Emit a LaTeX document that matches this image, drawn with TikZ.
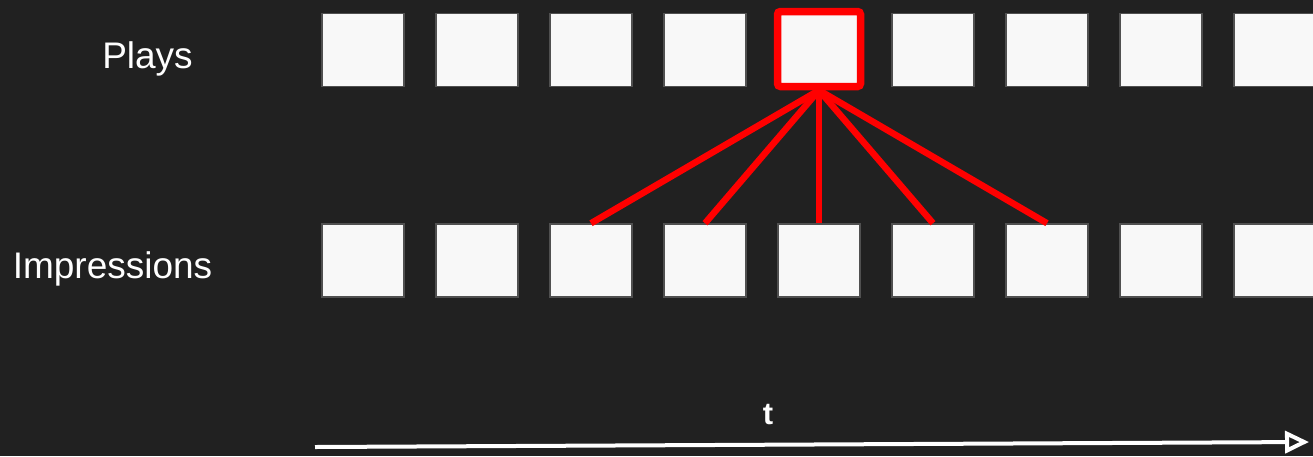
\documentclass[tikz,border=0pt]{standalone}
\usepackage{fontspec}
\setmainfont{Liberation Sans}
\usetikzlibrary{arrows.meta}
\definecolor{bgdark}{HTML}{212121}
\definecolor{slotfill}{HTML}{F8F8F8}
\definecolor{slotedge}{HTML}{505050}
\definecolor{hotred}{HTML}{FF0000}
\begin{document}
\begin{tikzpicture}[x=1pt, y=-1pt]
        \tikzstyle{slot}=[draw=slotedge, line width=1.5pt, fill=slotfill, rectangle, minimum width=82pt, minimum height=73pt, inner sep=0pt]
        \tikzstyle{picked}=[slot, draw=hotred, line width=7.5pt, rounded corners=3pt, minimum width=83pt, minimum height=75pt]
        \tikzstyle{link}=[draw=hotred, line width=6.5pt]
        \tikzstyle{rowlabel}=[text=white, font=\fontsize{37}{44}\selectfont, anchor=base, inner sep=0pt]

        \fill[bgdark] (0,0) rectangle (1313,456);
        \clip (0,0) rectangle (1313,456);

        \node[rowlabel] (plays) at (147.5,68) {Plays};
        \node[rowlabel] (impressions) at (112.5,278) {Impressions};

        \foreach \k in {1,2,3,4,6,7,8,9}
            \node[slot] (play\k) at ({363+114*(\k-1)},50) {};
        \node[picked] (play5) at (819,49) {};
        \foreach \k in {1,...,9}
            \node[slot] (imp\k) at ({363+114*(\k-1)},260.5) {};

        \foreach \k in {3,...,7}
            \draw[link] (play5.south) -- (imp\k.north);

        \node[rowlabel, font=\bfseries\fontsize{31}{36}\selectfont] (tlabel) at (768,424) {t};
        \coordinate (tstart) at (315,447);
        \coordinate (tend) at (1309,442);
        \draw[white, line width=4pt, -{Triangle[open, length=24pt, width=22pt]}] (tstart) -- (tend);
    \end{tikzpicture}
\end{document}
